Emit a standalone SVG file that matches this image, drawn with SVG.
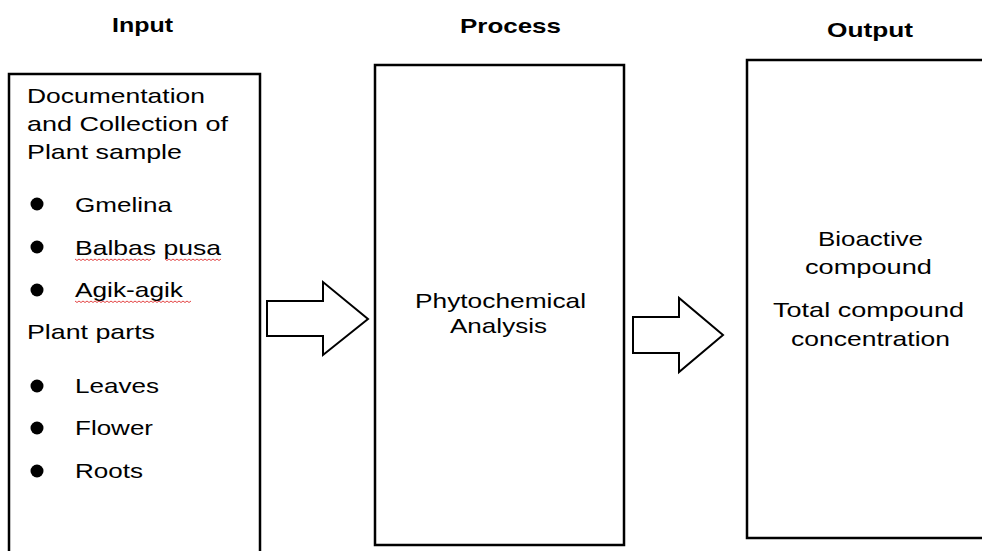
<svg xmlns="http://www.w3.org/2000/svg" width="982" height="551" viewBox="0 0 982 551">
<style>
.box{fill:#fff;stroke:#000;stroke-width:2.5}
.arr{fill:#fff;stroke:#000;stroke-width:2;stroke-linejoin:miter}
text{font-family:"Liberation Sans",Arial,sans-serif;font-size:21px;fill:#000}
.t{font-weight:bold}
.sq{fill:none;stroke:#e03030;stroke-width:0.9}
</style>
<rect width="982" height="551" fill="#fff"/>
<g id="titles">
<text class="t" x="112" y="32" textLength="61" lengthAdjust="spacingAndGlyphs">Input</text>
<text class="t" x="460" y="33" textLength="101" lengthAdjust="spacingAndGlyphs">Process</text>
<text class="t" x="827" y="37" textLength="86" lengthAdjust="spacingAndGlyphs">Output</text>
</g>
<g id="input">
<rect class="box" x="9" y="74" width="251" height="490"/>
<text x="27" y="103" textLength="178" lengthAdjust="spacingAndGlyphs">Documentation</text>
<text x="27" y="131" textLength="201" lengthAdjust="spacingAndGlyphs">and Collection of</text>
<text x="27" y="159" textLength="155" lengthAdjust="spacingAndGlyphs">Plant sample</text>
<circle cx="37" cy="204" r="6.5"/>
<text x="75" y="212" textLength="97" lengthAdjust="spacingAndGlyphs">Gmelina</text>
<circle cx="37" cy="247" r="6.5"/>
<text x="75" y="255" textLength="146" lengthAdjust="spacingAndGlyphs">Balbas pusa</text>
<path class="sq" d="M75 259 l2 1.5 l2 -1.5 l2 1.5 l2 -1.5 l2 1.5 l2 -1.5 l2 1.5 l2 -1.5 l2 1.5 l2 -1.5 l2 1.5 l2 -1.5 l2 1.5 l2 -1.5 l2 1.5 l2 -1.5 l2 1.5 l2 -1.5 l2 1.5 l2 -1.5 l2 1.5 l2 -1.5 l2 1.5 l2 -1.5 l2 1.5 l2 -1.5 l2 1.5 l2 -1.5 l2 1.5 l2 -1.5 l2 1.5 l2 -1.5 l2 1.5 l2 -1.5 l2 1.5 l2 -1.5 l2 1.5 l2 -1.5"/>
<path class="sq" d="M165 259 l2 1.5 l2 -1.5 l2 1.5 l2 -1.5 l2 1.5 l2 -1.5 l2 1.5 l2 -1.5 l2 1.5 l2 -1.5 l2 1.5 l2 -1.5 l2 1.5 l2 -1.5 l2 1.5 l2 -1.5 l2 1.5 l2 -1.5 l2 1.5 l2 -1.5 l2 1.5 l2 -1.5 l2 1.5 l2 -1.5 l2 1.5 l2 -1.5 l2 1.5 l2 -1.5"/>
<circle cx="37" cy="290" r="6.5"/>
<text x="75" y="297" textLength="108" lengthAdjust="spacingAndGlyphs">Agik-agik</text>
<path class="sq" d="M75 301 l2 1.5 l2 -1.5 l2 1.5 l2 -1.5 l2 1.5 l2 -1.5 l2 1.5 l2 -1.5 l2 1.5 l2 -1.5 l2 1.5 l2 -1.5 l2 1.5 l2 -1.5 l2 1.5 l2 -1.5 l2 1.5 l2 -1.5 l2 1.5 l2 -1.5 l2 1.5 l2 -1.5 l2 1.5 l2 -1.5 l2 1.5 l2 -1.5 l2 1.5 l2 -1.5 l2 1.5 l2 -1.5 l2 1.5 l2 -1.5 l2 1.5 l2 -1.5 l2 1.5 l2 -1.5 l2 1.5 l2 -1.5 l2 1.5 l2 -1.5 l2 1.5 l2 -1.5 l2 1.5 l2 -1.5 l2 1.5 l2 -1.5 l2 1.5 l2 -1.5 l2 1.5 l2 -1.5 l2 1.5 l2 -1.5 l2 1.5 l2 -1.5 l2 1.5 l2 -1.5 l2 1.5 l2 -1.5"/>
<text x="27" y="339" textLength="128" lengthAdjust="spacingAndGlyphs">Plant parts</text>
<circle cx="37" cy="386" r="6.5"/>
<text x="75" y="393" textLength="84" lengthAdjust="spacingAndGlyphs">Leaves</text>
<circle cx="37" cy="428" r="6.5"/>
<text x="75" y="435" textLength="78" lengthAdjust="spacingAndGlyphs">Flower</text>
<circle cx="37" cy="471" r="6.5"/>
<text x="75" y="478" textLength="68" lengthAdjust="spacingAndGlyphs">Roots</text>
</g>
<g id="process">
<rect class="box" x="375" y="65" width="249" height="480"/>
<text x="415" y="308" textLength="171" lengthAdjust="spacingAndGlyphs">Phytochemical</text>
<text x="450" y="333" textLength="97" lengthAdjust="spacingAndGlyphs">Analysis</text>
</g>
<g id="output">
<rect class="box" x="747" y="60" width="245" height="478"/>
<text x="818" y="246" textLength="105" lengthAdjust="spacingAndGlyphs">Bioactive</text>
<text x="805" y="274" textLength="127" lengthAdjust="spacingAndGlyphs">compound</text>
<text x="773" y="317" textLength="191" lengthAdjust="spacingAndGlyphs">Total compound</text>
<text x="791" y="346" textLength="159" lengthAdjust="spacingAndGlyphs">concentration</text>
</g>
<g id="connectors">
<path class="arr" d="M267 301 H323 V282 L368 319 L323 355 V336 H267 Z"/>
<path class="arr" d="M633 317 H679 V298 L723 335 L679 372 V353 H633 Z"/>
</g>
</svg>
